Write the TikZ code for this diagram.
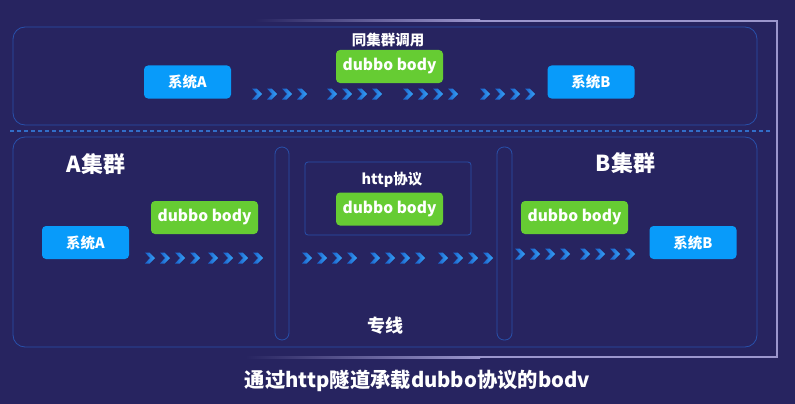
\documentclass[tikz,border=0pt]{standalone}
\usepackage{fontspec}
\setmainfont{Noto Sans CJK SC}
\definecolor{bg}{RGB}{39,36,96}
\definecolor{panel}{RGB}{40,80,170}
\definecolor{dashc}{RGB}{50,110,200}
\definecolor{outer}{RGB}{155,150,205}
\definecolor{sysblue}{RGB}{8,155,250}
\definecolor{bodygreen}{RGB}{102,204,51}
\definecolor{chevL}{RGB}{25,95,200}
\definecolor{chevR}{RGB}{55,165,250}
\newcommand\chevgroup[2]{%
  \foreach \i in {0,1,2,3}{%
    \shade[left color=chevL,right color=chevR,shift={({#1+15*\i},#2)}]
      (0,-5.5) -- (4.5,-5.5) -- (10,0) -- (4.5,5.5) -- (0,5.5) -- (5,0) -- cycle;}}
\begin{document}
\begin{tikzpicture}[x=1pt,y=-1pt,
  sysbox/.style={fill=sysblue,rounded corners=4pt,minimum width=87pt,minimum height=33pt,inner sep=0pt,text=white,font=\bfseries\fontsize{14.5}{14.5}\selectfont},
  bodybox/.style={fill=bodygreen,rounded corners=4pt,minimum width=107pt,minimum height=33pt,inner sep=0pt,text=white,font=\bfseries\fontsize{15.5}{15.5}\selectfont},
  panelbox/.style={draw=panel,line width=0.8pt,rounded corners=12pt},
  pill/.style={draw=panel,line width=0.8pt,rounded corners=7pt},
  lbl/.style={text=white,inner sep=0pt,font=\bfseries\fontsize{14.5}{14.5}\selectfont},
  biglbl/.style={text=white,inner sep=0pt,font=\bfseries\fontsize{22}{22}\selectfont}]
\fill[bg] (0,0) rectangle (795,404);
\useasboundingbox (0,0) rectangle (795,404);
% outer frame
\shade[left color=bg,right color=outer] (255,20) rectangle (480,22);
\fill[outer] (479,20) rectangle (778,22);
\fill[outer] (776,20) rectangle (778,358);
\shade[left color=bg,right color=outer] (245,356) rectangle (480,358);
\fill[outer] (479,356) rectangle (778,358);
% panels
\draw[panelbox] (13,27) rectangle (757,125);
\draw[dashc,line width=1.2pt,dash pattern=on 4pt off 3pt] (10,131) -- (772,131);
\draw[panelbox] (13,137) rectangle (757,347);
\draw[pill] (275,147) rectangle (289,340);
\draw[pill] (497,147) rectangle (512,340);
\draw[draw=panel,line width=0.8pt,rounded corners=3pt] (305,162) rectangle (471,235);
% top row
\node[lbl] (tlabel) at (388,40) {同集群调用};
\node[sysbox] (tA) at (187.5,82) {系统A};
\node[bodybox] (tbody) at (389.5,66.5) {dubbo body};
\node[sysbox] (tB) at (591,82) {系统B};
\chevgroup{252}{94}
\chevgroup{327}{94}
\chevgroup{403}{94}
\chevgroup{480}{94}
% bottom
\node[biglbl] (clA) at (96,164) {A集群};
\node[biglbl] (clB) at (625.5,163) {B集群};
\node[lbl] (http) at (392,180) {http协议};
\node[text=white,inner sep=0pt,font=\bfseries\fontsize{18}{18}\selectfont] (line) at (385,326) {专线};
\node[sysbox] (bA) at (85.5,242.5) {系统A};
\node[bodybox] (bbodyA) at (204.5,217.5) {dubbo body};
\node[bodybox] (bbodyM) at (389.5,209) {dubbo body};
\node[bodybox] (bbodyB) at (574.5,217.5) {dubbo body};
\node[sysbox] (bB) at (693,242.5) {系统B};
\chevgroup{145}{258}
\chevgroup{208}{258}
\chevgroup{302}{258}
\chevgroup{370}{258}
\chevgroup{438}{258}
\chevgroup{515}{254}
\chevgroup{580}{254}
\node[text=white,inner sep=0pt,font=\bfseries\fontsize{20.3}{20.3}\selectfont] (caption) at (417.5,381) {通过http隧道承载dubbo协议的bodv};
\end{tikzpicture}
\end{document}
